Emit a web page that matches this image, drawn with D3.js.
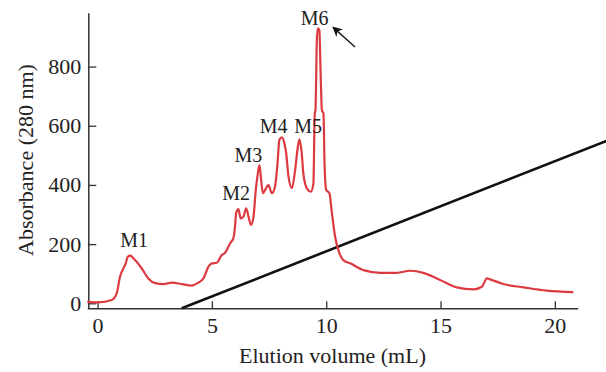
<!DOCTYPE html>
<html>
<head>
<meta charset="utf-8">
<script src="https://cdn.jsdelivr.net/npm/d3@7"></script>
<style>
  html, body { margin: 0; padding: 0; background: #fff; }
  svg { display: block; }
  text { font-family: "Liberation Serif", "Times New Roman", serif; fill: #222; }
</style>
</head>
<body>
<svg id="chart" width="606" height="372"></svg>
<script>
// ---- data ----
const elutionVolume = [-0.45, 0.03, 0.62, 0.84, 0.98, 1.13, 1.23, 1.32, 1.42, 1.64, 1.93, 2.22, 2.52, 2.88, 3.25, 3.68, 4.1, 4.41, 4.63,
  4.85, 5.0, 5.21, 5.43, 5.58, 5.8, 5.94, 6.01, 6.06, 6.16, 6.26, 6.38, 6.5, 6.6, 6.71, 6.82, 6.92, 7.01, 7.08, 7.14, 7.23, 7.33, 7.47,
  7.62, 7.76, 7.87, 7.95, 8.06, 8.17, 8.25, 8.35, 8.5, 8.64, 8.76, 8.83, 8.93, 9.0, 9.15, 9.33, 9.44, 9.5, 9.53, 9.59, 9.63, 9.7, 9.76,
  9.81, 9.88, 9.93, 10.0, 10.14, 10.25, 10.39, 10.53, 10.75, 11.05, 11.63, 12.36, 13.09, 13.67, 14.25, 14.98, 15.71, 16.44, 16.81,
  17.03, 17.17, 17.75, 18.63, 19.65, 20.81];
const absorbance = [5, 3, 11, 34, 90, 118, 135, 157, 161, 146, 118, 84, 68, 65, 70, 65, 60, 70, 84,
  124, 135, 137, 163, 171, 203, 220, 259, 304, 318, 287, 293, 321, 293, 265, 293, 383, 439, 467, 428, 372, 383, 400,
  372, 394, 473, 552, 561, 541, 507, 428, 389, 450, 529, 554, 507, 439, 389, 377, 405, 642, 653, 889, 929, 923, 766,
  653, 642, 461, 383, 372, 304, 225, 180, 146, 135, 112, 103, 103, 110, 103, 79, 54, 47, 56,
  84, 81, 65, 54, 43, 38];
const gradientVolume = [3.68, 22.3];
const gradientValue = [-16.9, 550];
const xTicks = [0, 5, 10, 15, 20];
const yTicks = [0, 200, 400, 600, 800];
const peakLabels = ["M1", "M2", "M3", "M4", "M5", "M6"];
const peakLabelX = [1.6, 6.06, 6.6, 7.7, 9.21, 9.49];
const peakLabelY = [190, 349, 477, 575, 575, 940];
const arrowX = [11.26, 10.3];
const arrowY = [866, 933];

// ---- scales ----
const svg = d3.select("#chart");
const x = d3.scaleLinear().domain([-0.45, 21.0]).range([87.3, 577.7]);
const y = d3.scaleLinear().domain([-16.9, 982]).range([308.3, 12.7]);

// ---- axes ----
const axisColor = "#333";
const gx = svg.append("g").attr("transform", `translate(0,${y(-16.9)})`)
  .call(d3.axisBottom(x).tickValues(xTicks).tickFormat(d3.format("d")).tickSizeInner(-7).tickSizeOuter(0));
gx.select(".domain").attr("stroke", axisColor).attr("stroke-width", 1.5);
gx.selectAll(".tick line").attr("stroke", axisColor).attr("stroke-width", 1.3);
gx.selectAll(".tick text").attr("y", 25).attr("dy", null).attr("font-size", 22)
  .attr("font-family", "Liberation Serif").attr("fill", "#222");

const gy = svg.append("g").attr("transform", `translate(${x(-0.45) + 1},0)`)
  .call(d3.axisLeft(y).tickValues(yTicks).tickFormat(d3.format("d")).tickSizeInner(-8).tickSizeOuter(0).tickPadding(7));
gy.select(".domain").attr("stroke", axisColor).attr("stroke-width", 1.5);
gy.selectAll(".tick line").attr("stroke", axisColor).attr("stroke-width", 1.3);
gy.selectAll(".tick text").attr("font-size", 22).attr("font-family", "Liberation Serif").attr("fill", "#222");

// ---- axis titles ----
svg.append("text").attr("x", 332.5).attr("y", 363).attr("text-anchor", "middle")
  .attr("font-size", 22).text("Elution volume (mL)");
svg.append("text").attr("transform", "translate(33,160) rotate(-90)").attr("text-anchor", "middle")
  .attr("font-size", 22).text("Absorbance (280 nm)");

// ---- gradient line ----
const gradPts = gradientVolume.map((v, i) => [v, gradientValue[i]]);
svg.append("path").datum(gradPts)
  .attr("d", d3.line().x(d => x(d[0])).y(d => y(d[1])))
  .attr("fill", "none").attr("stroke", "#111").attr("stroke-width", 2.6);

// ---- absorbance curve ----
const pts = elutionVolume.map((v, i) => [v, absorbance[i]]);
svg.append("path").datum(pts)
  .attr("d", d3.line().x(d => x(d[0])).y(d => y(d[1])).curve(d3.curveMonotoneX))
  .attr("fill", "none").attr("stroke", "#dd3a40").attr("stroke-width", 2.2)
  .attr("stroke-linejoin", "round");

// ---- peak labels ----
svg.selectAll("text.peak").data(peakLabels).join("text").attr("class", "peak")
  .attr("x", (d, i) => x(peakLabelX[i])).attr("y", (d, i) => y(peakLabelY[i]))
  .attr("text-anchor", "middle").attr("font-size", 20).text(d => d);

// ---- arrow ----
svg.append("defs").append("marker").attr("id", "ah").attr("viewBox", "0 0 10 10")
  .attr("refX", 9).attr("refY", 5).attr("markerWidth", 10).attr("markerHeight", 10)
  .attr("markerUnits", "userSpaceOnUse").attr("orient", "auto")
  .append("path").attr("d", "M0,0 L10,5 L0,10 L3,5 Z").attr("fill", "#111");
svg.append("line")
  .attr("x1", x(arrowX[0])).attr("y1", y(arrowY[0]))
  .attr("x2", x(arrowX[1])).attr("y2", y(arrowY[1]))
  .attr("stroke", "#111").attr("stroke-width", 1.4).attr("marker-end", "url(#ah)");
</script>
</body>
</html>
